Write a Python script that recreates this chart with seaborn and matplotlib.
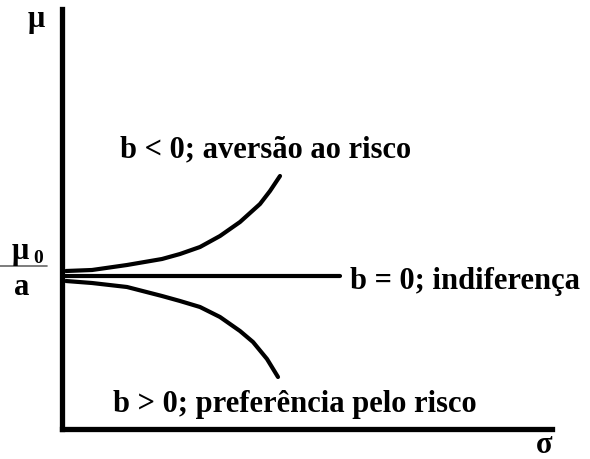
import matplotlib
matplotlib.use("Agg")
import matplotlib.pyplot as plt
import seaborn as sns
import pandas as pd

sns.set_style("white")
plt.rcParams['font.family'] = ['Liberation Serif', 'DejaVu Serif']
plt.rcParams['font.weight'] = 'bold'
plt.rcParams['text.color'] = 'black'

# curve points (sigma, mu)
upper_sigma = [4, 30, 65, 100, 118, 138, 158, 178, 198, 208, 218]
upper_mu = [158, 159, 164, 170, 175, 182, 193, 207, 225, 238, 253]
flat_sigma = [0, 278]
flat_mu = [153, 153]
lower_sigma = [4, 30, 65, 100, 118, 138, 158, 178, 191, 205, 216]
lower_mu = [148, 146, 142, 133, 128, 122, 112, 98, 87, 70, 52]

fig = plt.figure(figsize=(5.9, 4.6), dpi=100)
ax = fig.add_axes([62/590, 30/460, 490/590, 420/460])
ax.set_xlim(0, 490)
ax.set_ylim(0, 420)

df_u = pd.DataFrame({"s": upper_sigma, "m": upper_mu})
df_f = pd.DataFrame({"s": flat_sigma, "m": flat_mu})
df_l = pd.DataFrame({"s": lower_sigma, "m": lower_mu})
for d in (df_u, df_f, df_l):
    sns.lineplot(data=d, x="s", y="m", ax=ax, color="black", linewidth=3,
                 sort=False, solid_capstyle="round", solid_joinstyle="round")

for side in ["top", "right"]:
    ax.spines[side].set_visible(False)
for side in ["left", "bottom"]:
    ax.spines[side].set_linewidth(3.8)
    ax.spines[side].set_color("black")
ax.set_xticks([])
ax.set_yticks([])
ax.set_xlabel("")
ax.set_ylabel("")

fs = 22
def ft(x, y, s, size, ha="left", va="baseline"):
    fig.text(x/590, 1 - y/460, s, fontsize=size, fontweight="bold", color="black", ha=ha, va=va)

ft(36, 27, "μ", 22, ha="center")
ft(544, 453, "σ", 22, ha="center")
ft(12, 259, "μ", 22)
ft(33, 263, "0", 14)
fig.add_artist(plt.Line2D([0/590, 47/590], [1 - 267/460, 1 - 267/460], color="#666666", linewidth=1.2))
ft(22, 295, "a", 22, ha="center")

ax.text(204, 280, "b < 0; aversão ao risco", fontsize=fs, fontweight="bold", color="black", ha="center", va="center")
ax.text(288, 148, "b = 0; indiferença", fontsize=fs, fontweight="bold", color="black", ha="left", va="center")
ax.text(233, 25, "b > 0; preferência pelo risco", fontsize=fs, fontweight="bold", color="black", ha="center", va="center")

fig.savefig("out.png", dpi=100)
